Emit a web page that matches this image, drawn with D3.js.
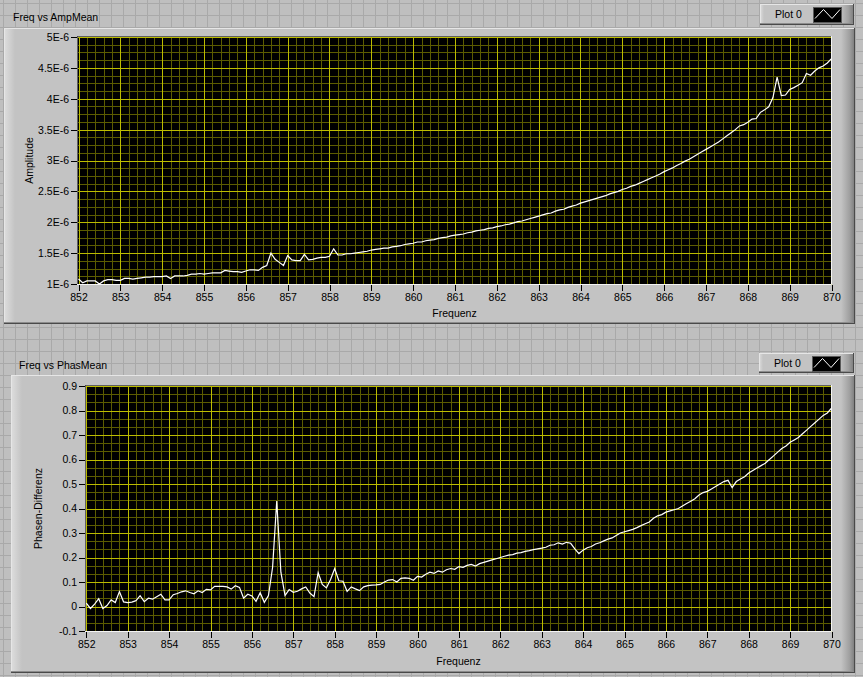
<!DOCTYPE html>
<html>
<head>
<meta charset="utf-8">
<script src="https://cdn.jsdelivr.net/npm/d3@7"></script>
<style>
  body { margin: 0; background: #bebebe; }
  svg { display: block; font-family: "Liberation Sans", Arial, sans-serif; }
</style>
</head>
<body>
<svg id="vi" width="863" height="677"></svg>
<script>
// sweep 852 .. 870 in 0.1 steps
const freqStart = 852;
const freqStep = 0.1;

// amplitude mean, in units of 1E-6
const ampMean = [
  1.08, 1.02, 1.05, 1.05, 1.05, 1.00, 1.05, 1.07, 1.07, 1.06,
  1.06, 1.09, 1.09, 1.08, 1.09, 1.10, 1.11, 1.11, 1.12, 1.12,
  1.12, 1.13, 1.09, 1.13, 1.13, 1.13, 1.14, 1.16, 1.16, 1.17,
  1.16, 1.17, 1.18, 1.18, 1.18, 1.22, 1.21, 1.20, 1.20, 1.19,
  1.21, 1.23, 1.23, 1.22, 1.27, 1.30, 1.50, 1.40, 1.35, 1.30,
  1.46, 1.39, 1.38, 1.38, 1.48, 1.39, 1.40, 1.42, 1.43, 1.43,
  1.45, 1.57, 1.47, 1.47, 1.49, 1.49, 1.50, 1.51, 1.52, 1.53,
  1.55, 1.56, 1.57, 1.58, 1.58, 1.60, 1.61, 1.62, 1.64, 1.65,
  1.66, 1.68, 1.68, 1.70, 1.71, 1.72, 1.74, 1.75, 1.76, 1.78,
  1.79, 1.80, 1.81, 1.83, 1.84, 1.86, 1.87, 1.88, 1.90, 1.91,
  1.93, 1.94, 1.96, 1.97, 1.99, 2.01, 2.02, 2.04, 2.06, 2.08,
  2.10, 2.12, 2.14, 2.15, 2.18, 2.20, 2.21, 2.24, 2.26, 2.28,
  2.31, 2.33, 2.35, 2.37, 2.39, 2.41, 2.43, 2.46, 2.48, 2.50,
  2.53, 2.55, 2.58, 2.60, 2.63, 2.66, 2.69, 2.72, 2.75, 2.78,
  2.82, 2.85, 2.88, 2.92, 2.95, 2.99, 3.02, 3.06, 3.10, 3.14,
  3.18, 3.22, 3.26, 3.30, 3.35, 3.40, 3.45, 3.50, 3.56, 3.58,
  3.62, 3.67, 3.68, 3.78, 3.82, 3.87, 4.02, 4.35, 4.05, 4.06,
  4.15, 4.18, 4.22, 4.26, 4.41, 4.38, 4.45, 4.50, 4.53, 4.58,
  4.65
];

// phase difference mean
const phasMean = [
  0.014, -0.008, 0.010, 0.032, -0.008, 0.004, 0.027, 0.016, 0.061, 0.019,
  0.016, 0.018, 0.024, 0.044, 0.020, 0.034, 0.030, 0.040, 0.050, 0.027,
  0.027, 0.048, 0.053, 0.060, 0.064, 0.057, 0.052, 0.064, 0.057, 0.070,
  0.068, 0.082, 0.082, 0.082, 0.080, 0.071, 0.085, 0.078, 0.034, 0.050,
  0.043, 0.021, 0.056, 0.017, 0.045, 0.160, 0.430, 0.140, 0.045, 0.069,
  0.058, 0.062, 0.072, 0.080, 0.055, 0.040, 0.138, 0.090, 0.076, 0.110,
  0.155, 0.105, 0.103, 0.062, 0.080, 0.072, 0.065, 0.080, 0.085, 0.087,
  0.088, 0.090, 0.100, 0.108, 0.110, 0.100, 0.115, 0.117, 0.115, 0.107,
  0.123, 0.120, 0.132, 0.140, 0.135, 0.145, 0.140, 0.150, 0.155, 0.152,
  0.163, 0.160, 0.168, 0.172, 0.165, 0.175, 0.180, 0.185, 0.190, 0.195,
  0.200, 0.205, 0.210, 0.212, 0.218, 0.220, 0.225, 0.228, 0.232, 0.235,
  0.238, 0.242, 0.250, 0.252, 0.260, 0.255, 0.262, 0.258, 0.235, 0.216,
  0.230, 0.240, 0.245, 0.255, 0.260, 0.268, 0.275, 0.280, 0.290, 0.300,
  0.305, 0.310, 0.315, 0.322, 0.330, 0.338, 0.345, 0.360, 0.370, 0.375,
  0.385, 0.390, 0.395, 0.400, 0.410, 0.420, 0.430, 0.440, 0.455, 0.465,
  0.470, 0.480, 0.490, 0.500, 0.510, 0.515, 0.485, 0.510, 0.520, 0.530,
  0.545, 0.555, 0.565, 0.575, 0.585, 0.600, 0.615, 0.630, 0.645, 0.655,
  0.670, 0.680, 0.690, 0.705, 0.720, 0.735, 0.750, 0.765, 0.780, 0.790,
  0.810
];

const freqTicks = [852, 853, 854, 855, 856, 857, 858, 859, 860, 861, 862, 863, 864, 865, 866, 867, 868, 869, 870];
const ampTicks = [1, 1.5, 2, 2.5, 3, 3.5, 4, 4.5, 5];
const ampTickLabels = ["1E-6", "1.5E-6", "2E-6", "2.5E-6", "3E-6", "3.5E-6", "4E-6", "4.5E-6", "5E-6"];
const phasTicks = [-0.1, 0, 0.1, 0.2, 0.3, 0.4, 0.5, 0.6, 0.7, 0.8, 0.9];
const phasTickLabels = ["-0.1", "0", "0.1", "0.2", "0.3", "0.4", "0.5", "0.6", "0.7", "0.8", "0.9"];

const freq = ampMean.map((d, i) => +(freqStart + i * freqStep).toFixed(1));

const fontSize = "10.5px";
const majorColor = "#bcbc00";
const minorColor = "#5c5c00";

const svg = d3.select("#vi");
const defs = svg.append("defs");

// background panel grid
const pat = defs.append("pattern")
  .attr("id", "bggrid")
  .attr("width", 12).attr("height", 12)
  .attr("patternUnits", "userSpaceOnUse")
  .attr("x", 3).attr("y", 3);
pat.append("rect").attr("width", 12).attr("height", 12).attr("fill", "#bfbfbf");
pat.append("path").attr("d", "M0,0.5H12M0.5,0V12").attr("stroke", "#a9a9a9").attr("fill", "none");

svg.append("rect").attr("width", 863).attr("height", 677).attr("fill", "url(#bggrid)");

function grad(id, stops, x2, y2) {
  const g = defs.append("linearGradient").attr("id", id)
    .attr("x1", 0).attr("y1", 0).attr("x2", x2).attr("y2", y2);
  stops.forEach(([o, c]) => g.append("stop").attr("offset", o).attr("stop-color", c));
}
grad("leftEdge", [[0, "#dedede"], [1, "#c3c3c3"]], 1, 0);
grad("rightEdge", [[0, "#c3c3c3"], [0.6, "#a0a0a0"], [1, "#7a7a7a"]], 1, 0);

function raisedBox(g, x, y, w, h, edge) {
  g.append("rect").attr("x", x).attr("y", y).attr("width", w).attr("height", h).attr("fill", "#c3c3c3");
  g.append("rect").attr("x", x).attr("y", y).attr("width", edge).attr("height", h).attr("fill", "url(#leftEdge)");
  g.append("rect").attr("x", x + w - 14).attr("y", y).attr("width", 14).attr("height", h).attr("fill", "url(#rightEdge)");
  g.append("path")
    .attr("d", `M${x},${y + 0.5}H${x + w}M${x + 0.5},${y}V${y + h}`)
    .attr("stroke", "#e6e6e6").attr("fill", "none");
  g.append("path")
    .attr("d", `M${x},${y + h - 1.5}H${x + w}`)
    .attr("stroke", "#8c8c8c").attr("fill", "none");
  g.append("path")
    .attr("d", `M${x},${y + h - 0.5}H${x + w}M${x + w - 0.5},${y}V${y + h}`)
    .attr("stroke", "#4a4a4a").attr("fill", "none");
}

const charts = [
  {
    id: "amp",
    title: "Freq vs AmpMean", titleX: 13, titleY: 21,
    values: ampMean,
    yLabel: "Amplitude", yLabelX: 33,
    yTicks: ampTicks, yTickLabels: ampTickLabels,
    yDomain: [1, 5], yMinorStep: 0.125, yMajorStep: 0.5,
    panel: { x: 4, y: 28, w: 851, h: 296 },
    legend: { x: 760, y: 4, w: 94, h: 21 },
    plot: { x0: 77, x1: 832, y0: 36, y1: 285 },
    xr: [78.5, 831.5], yr: [284, 37],
    xLabelY: 317
  },
  {
    id: "phas",
    title: "Freq vs PhasMean", titleX: 19, titleY: 369,
    values: phasMean,
    yLabel: "Phasen-Differenz", yLabelX: 42,
    yTicks: phasTicks, yTickLabels: phasTickLabels,
    yDomain: [-0.1, 0.9], yMinorStep: 0.1 / 3, yMajorStep: 0.1,
    panel: { x: 11, y: 375, w: 844, h: 298 },
    legend: { x: 759, y: 353, w: 95, h: 20 },
    plot: { x0: 85, x1: 832, y0: 385, y1: 632 },
    xr: [86.3, 831.5], yr: [631, 386],
    xLabelY: 665
  }
];

charts.forEach(drawChart);

function drawChart(c) {
  const g = svg.append("g").attr("class", `chart ${c.id}`);
  const p = c.plot;

  g.append("text")
    .attr("x", c.titleX).attr("y", c.titleY)
    .attr("font-size", fontSize).attr("fill", "#000")
    .text(c.title);

  // legend
  const lg = g.append("g");
  raisedBox(lg, c.legend.x, c.legend.y, c.legend.w, c.legend.h, 4);
  lg.append("text")
    .attr("x", c.legend.x + 15).attr("y", c.legend.y + 14)
    .attr("font-size", fontSize).attr("fill", "#000")
    .text("Plot 0");
  const sx = c.legend.x + 53, sy = c.legend.y + 3;
  lg.append("rect")
    .attr("x", sx + 0.5).attr("y", sy + 0.5).attr("width", 28).attr("height", 15)
    .attr("fill", "#000").attr("stroke", "#5a5a5a");
  lg.append("polyline")
    .attr("points", [[sx + 2, sy + 11.5], [sx + 10.5, sy + 2.5], [sx + 19, sy + 11.5], [sx + 27, sy + 2.5]].join(" "))
    .attr("fill", "none").attr("stroke", "#fff");

  raisedBox(g, c.panel.x, c.panel.y, c.panel.w, c.panel.h, 11);

  const x = d3.scaleLinear().domain([freqTicks[0], freqTicks[freqTicks.length - 1]]).range(c.xr);
  const y = d3.scaleLinear().domain(c.yDomain).range(c.yr);

  defs.append("clipPath").attr("id", `clip-${c.id}`)
    .append("rect").attr("x", p.x0).attr("y", p.y0).attr("width", p.x1 - p.x0).attr("height", p.y1 - p.y0);

  g.append("rect")
    .attr("x", p.x0).attr("y", p.y0).attr("width", p.x1 - p.x0).attr("height", p.y1 - p.y0)
    .attr("fill", "#000");

  const grid = g.append("g").attr("clip-path", `url(#clip-${c.id})`).attr("shape-rendering", "crispEdges");
  const xMinor = d3.range(852, 870.001, 0.2);
  const yMinor = d3.range(c.yDomain[0], c.yDomain[1] + 1e-6, c.yMinorStep);
  grid.selectAll(".xminor").data(xMinor).join("line")
    .attr("x1", (d) => Math.round(x(d)) + 0.5).attr("x2", (d) => Math.round(x(d)) + 0.5)
    .attr("y1", p.y0).attr("y2", p.y1)
    .attr("stroke", minorColor);
  grid.selectAll(".yminor").data(yMinor).join("line")
    .attr("y1", (d) => Math.round(y(d)) + 0.5).attr("y2", (d) => Math.round(y(d)) + 0.5)
    .attr("x1", p.x0).attr("x2", p.x1)
    .attr("stroke", minorColor);
  grid.selectAll(".xmajor").data(freqTicks).join("line")
    .attr("x1", (d) => Math.round(x(d)) + 0.5).attr("x2", (d) => Math.round(x(d)) + 0.5)
    .attr("y1", p.y0).attr("y2", p.y1)
    .attr("stroke", majorColor);
  grid.selectAll(".ymajor").data(c.yTicks).join("line")
    .attr("y1", (d) => Math.round(y(d)) + 0.5).attr("y2", (d) => Math.round(y(d)) + 0.5)
    .attr("x1", p.x0).attr("x2", p.x1)
    .attr("stroke", majorColor);

  const line = d3.line().x((d, i) => x(freq[i])).y((d) => y(d));
  g.append("path")
    .datum(c.values)
    .attr("clip-path", `url(#clip-${c.id})`)
    .attr("d", line)
    .attr("fill", "none")
    .attr("stroke", "#fff")
    .attr("stroke-width", 1.2);

  // plot frame: dark top/left, white bottom/right
  g.append("path")
    .attr("d", `M${p.x0 + 0.5},${p.y1}V${p.y0 + 0.5}H${p.x1}`)
    .attr("stroke", "#606060").attr("fill", "none");
  g.append("path")
    .attr("d", `M${p.x0},${p.y1 - 0.5}H${p.x1 - 0.5}V${p.y0}`)
    .attr("stroke", "#f4f4f4").attr("fill", "none");

  const xAxis = g.append("g")
    .attr("transform", `translate(0,${p.y1})`)
    .call(d3.axisBottom(x).tickValues(freqTicks).tickFormat(d3.format("d")).tickSize(6).tickPadding(3));
  const yAxis = g.append("g")
    .attr("transform", `translate(${p.x0},0)`)
    .call(d3.axisLeft(y).tickValues(c.yTicks).tickFormat((d, i) => c.yTickLabels[i]).tickSize(6).tickPadding(2));
  [xAxis, yAxis].forEach((a) => {
    a.select(".domain").remove();
    a.selectAll(".tick line").attr("stroke", "#000").attr("shape-rendering", "crispEdges");
    a.selectAll(".tick text").attr("fill", "#000").attr("font-size", fontSize)
      .attr("font-family", "Liberation Sans, Arial, sans-serif");
  });

  g.append("text")
    .attr("x", (p.x0 + p.x1) / 2).attr("y", c.xLabelY)
    .attr("text-anchor", "middle").attr("font-size", fontSize).attr("fill", "#000")
    .text("Frequenz");
  g.append("text")
    .attr("transform", `translate(${c.yLabelX},${(p.y0 + p.y1) / 2}) rotate(-90)`)
    .attr("text-anchor", "middle").attr("font-size", fontSize).attr("fill", "#000")
    .text(c.yLabel);
}
</script>
</body>
</html>
